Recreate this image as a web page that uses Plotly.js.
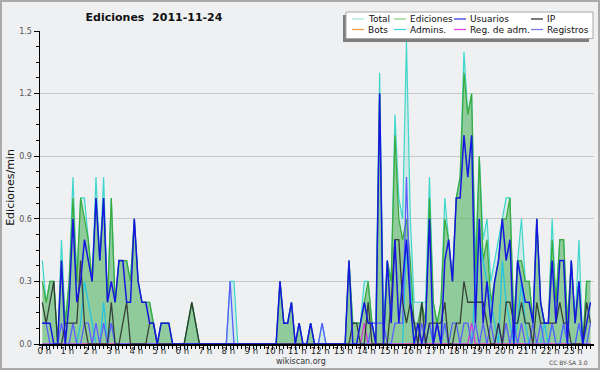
<!DOCTYPE html>
<html>
<head>
<meta charset="utf-8">
<script src="https://cdn.plot.ly/plotly-3.0.1.min.js"></script>
<style>
  html, body { margin:0; padding:0; background:#eff0f2; }
  #wrap { position:relative; width:600px; height:370px; }
  #chart { width:600px; height:370px; }
  #frame { position:absolute; left:0; top:0; width:600px; height:370px; box-sizing:border-box; border:2px solid #ababab; pointer-events:none; }
</style>
</head>
<body>
<div id="wrap"><div id="chart"></div><div id="frame"></div></div>
<script>
// ---- data: edits per minute in 10-minute bins, 2011-11-24 ----
const binMinutes = 10;
const hourLabels = ["0 h","1 h","2 h","3 h","4 h","5 h","6 h","7 h","8 h","9 h","10 h","11 h",
  "12 h","13 h","14 h","15 h","16 h","17 h","18 h","19 h","20 h","21 h","22 h","23 h"];
const yTickValues = [0, 0.3, 0.6, 0.9, 1.2, 1.5];
const yTickLabels = ["0.0", "0.3", "0.6", "0.9", "1.2", "1.5"];
const seriesNames = ["Total","Ediciones","Usuarios","IP","Bots","Admins.","Reg. de adm.","Registros"];

const total = [
  0.4,0.2,0.3,0.3,0.0,0.5,  0.1,0.3,0.8,0.3,0.7,0.7,  0.5,0.3,0.8,0.4,0.8,0.2,  0.7,0.2,0.4,0.4,0.4,0.3,
  0.6,0.3,0.2,0.2,0.2,0.1,  0.0,0.1,0.1,0.1,0.0,0.0,  0.0,0.0,0.1,0.2,0.1,0.0,  0,0,0,0,0,0,
  0,0.3,0.3,0,0,0,          0,0,0,0,0,0,              0,0,0.3,0.1,0.1,0.2,      0,0.1,0,0,0.1,0,
  0,0.1,0,0,0,0,            0,0,0.4,0.1,0.1,0.1,      0.3,0.3,0.1,0.1,1.3,0.1,  0.4,0.3,1.1,0.7,0.6,1.45,
  0.6,0.2,0.2,0.2,0.2,0.8,  0.2,0.1,0.2,0.7,0.5,0.3,  0.7,0.8,1.4,1.1,1.2,0.4,  0.9,0.5,0.6,0.3,0.4,0.5,
  0.6,0.7,0.7,0.1,0.4,0.6,  0.3,0.3,0.1,0.6,0.2,0.1,  0.1,0.6,0.2,0.5,0.5,0.1,  0.4,0.1,0.5,0.0,0.3,0.3
];
const ediciones = [
  0.3,0.2,0.3,0.3,0.0,0.4,  0.1,0.3,0.7,0.3,0.7,0.6,  0.5,0.3,0.7,0.4,0.7,0.2,  0.7,0.2,0.4,0.4,0.4,0.3,
  0.6,0.3,0.2,0.2,0.2,0.1,  0.0,0.1,0.1,0.1,0.0,0.0,  0.0,0.0,0.1,0.2,0.1,0.0,  0,0,0,0,0,0,
  0,0,0,0,0,0,              0,0,0,0,0,0,              0,0,0.3,0.1,0.1,0.2,      0,0.1,0,0,0.1,0,
  0,0,0,0,0,0,              0,0,0.4,0.1,0.1,0.1,      0.2,0.3,0.1,0.0,1.2,0.0,  0.4,0.3,1.0,0.6,0.5,0.6,
  0.4,0.1,0.1,0.2,0.1,0.7,  0.2,0.1,0.2,0.6,0.5,0.3,  0.7,0.8,1.3,1.1,1.2,0.3,  0.9,0.4,0.5,0.2,0.3,0.4,
  0.6,0.6,0.7,0.1,0.4,0.4,  0.3,0.3,0.1,0.6,0.2,0.1,  0.1,0.5,0.2,0.5,0.5,0.1,  0.4,0.1,0.3,0.0,0.3,0.3
];
const usuarios = [
  0.1,0.1,0.1,0.0,0.0,0.4,  0.0,0.2,0.6,0.2,0.3,0.5,  0.4,0.3,0.7,0.4,0.7,0.2,  0.3,0.2,0.4,0.4,0.2,0.2,
  0.6,0.3,0.2,0.2,0.1,0.1,  0.0,0.1,0.1,0.1,0.0,0.0,  0,0,0,0,0,0,              0,0,0,0,0,0,
  0,0,0,0,0,0,              0,0,0,0,0,0,              0,0,0.3,0.1,0.1,0.2,      0,0.1,0,0,0.1,0,
  0,0,0,0,0,0,              0,0,0.4,0.0,0.0,0.1,      0.2,0.1,0.1,0.0,1.2,0.0,  0.4,0.1,0.5,0.1,0.3,0.5,
  0.2,0.0,0.1,0.0,0.1,0.6,  0.0,0.1,0.0,0.4,0.5,0.3,  0.7,0.7,1.0,0.8,1.0,0.1,  0.6,0.1,0.3,0.1,0.3,0.4,
  0.6,0.4,0.5,0.0,0.4,0.3,  0.2,0.2,0.1,0.6,0.2,0.1,  0.1,0.4,0.1,0.4,0.4,0.0,  0.4,0.1,0.3,0.0,0.1,0.2
];
const ip = [
  0.2,0.1,0.2,0.3,0.0,0.0,  0.1,0.1,0.1,0.1,0.4,0.1,  0,0,0,0,0,0,              0.2,0.0,0.0,0.1,0.2,0.0,
  0,0,0,0,0.1,0.1,          0,0,0,0,0,0,              0,0,0.1,0.2,0.1,0,        0,0,0,0,0,0,
  0,0,0,0,0,0,              0,0,0,0,0,0,              0,0,0,0,0,0,              0,0,0,0,0,0,
  0,0,0,0,0,0,              0,0,0,0.1,0.1,0.0,        0.0,0.2,0.0,0.0,0.0,0.0,  0.0,0.2,0.5,0.5,0.2,0.1,
  0.2,0.1,0.0,0.2,0.0,0.1,  0.1,0.1,0.1,0.2,0.0,0.0,  0.1,0.1,0.3,0.2,0.2,0.2,  0.2,0.2,0.1,0.0,0.0,0.1,
  0.0,0.2,0.2,0.1,0.1,0.2,  0.1,0.1,0.0,0.2,0.1,0.1,  0.1,0.1,0.1,0.2,0.1,0.1,  0.0,0.0,0.0,0.0,0.2,0.1
];
const bots = [
  0,0,0,0,0,0, 0,0,0,0,0,0, 0,0,0,0,0,0, 0,0,0,0,0,0,
  0,0,0,0,0,0, 0,0,0,0,0,0, 0,0,0,0,0,0, 0,0,0,0,0,0,
  0,0,0,0,0,0, 0,0,0,0,0,0, 0,0,0,0,0,0, 0,0,0,0,0,0,
  0,0,0,0,0,0, 0,0,0,0,0,0, 0,0,0,0,0,0, 0,0,0,0,0,0,
  0,0,0,0,0,0, 0,0,0,0,0,0, 0,0,0,0,0,0, 0,0,0,0,0,0,
  0,0,0,0,0,0, 0,0,0,0,0,0, 0,0,0,0,0,0, 0,0,0,0,0,0
];
const admins = [
  0,0,0,0,0,0,              0,0,0,0,0.1,0.3,          0.2,0.1,0,0,0.2,0,        0.1,0,0,0,0,0,
  0,0,0,0,0,0,              0,0,0,0,0,0,              0,0,0,0,0,0,              0,0,0,0,0,0,
  0,0,0,0,0,0,              0,0,0,0,0,0,              0,0,0,0,0,0,              0,0,0,0,0,0,
  0,0,0,0,0,0,              0,0,0,0,0,0,              0,0,0,0,0,0,              0,0,0,0,0,0.5,
  0.3,0,0,0,0,0.1,          0,0,0,0.1,0,0,            0,0,0,0,0,0.3,            0.5,0.4,0.3,0.2,0.1,0,
  0.4,0.2,0.1,0,0.1,0.3,    0.1,0,0,0,0,0.1,          0,0.1,0,0,0.1,0,          0,0,0.1,0,0,0
];
const regAdm = [
  0,0,0,0,0,0, 0,0,0,0,0,0, 0,0,0,0,0,0, 0,0,0,0,0,0,
  0,0,0,0,0,0, 0,0,0,0,0,0, 0,0,0,0,0,0, 0,0,0,0,0,0,
  0,0,0,0,0,0, 0,0,0,0,0,0, 0,0,0,0,0,0, 0,0,0,0,0,0,
  0,0,0,0,0,0, 0,0,0,0,0,0, 0.1,0,0,0,0,0, 0,0,0,0,0,0,
  0,0,0,0,0,0, 0,0,0,0,0,0, 0,0,0,0,0.1,0, 0,0,0,0,0,0,
  0,0,0,0,0,0, 0,0,0,0,0,0, 0,0,0,0,0,0, 0,0,0,0,0,0
];
const registros = [
  0.1,0.1,0,0,0,0.1,        0,0,0.1,0,0,0.1,          0.1,0,0.1,0,0.1,0,        0.1,0,0,0,0,0,
  0,0,0,0,0,0,              0,0,0,0,0,0,              0,0,0,0,0,0,              0,0,0,0,0,0,
  0,0.3,0,0,0,0,            0,0,0,0,0,0,              0,0,0,0,0,0,              0,0,0,0,0,0,
  0,0.1,0,0,0,0,            0,0,0,0,0,0,              0,0,0.1,0.1,0.1,0.1,      0,0,0.1,0.1,0.1,0.8,
  0.2,0.1,0,0.1,0,0.1,      0,0.1,0,0.1,0,0.1,        0.1,0,0.1,0.1,0,0.1,      0,0.1,0,0.1,0,0.1,
  0,0.1,0,0.1,0,0.1,        0,0,0.1,0,0.1,0,          0,0.1,0,0,0.1,0,          0,0,0.1,0,0,0.1
];

// ---- build ----
const binHours = total.map((_, i) => i * binMinutes / 60);
const hourTicks = hourLabels.map((_, h) => h);

const lineColors = {
  "Total": "#3fd6cc", "Ediciones": "#3aaa3a", "Usuarios": "#1616e0", "IP": "#2a2a2a",
  "Bots": "#f59a30", "Admins.": "#25c4e0", "Reg. de adm.": "#d838d8", "Registros": "#5c5cff"
};
const legendColors = {
  "Total": "#a6e6df", "Ediciones": "#8fd28f", "Usuarios": "#3c3ce0", "IP": "#333333",
  "Bots": "#f5a040", "Admins.": "#40d4e4", "Reg. de adm.": "#dd44dd", "Registros": "#7a7aee"
};
const valuesByName = {
  "Total": total, "Ediciones": ediciones, "Usuarios": usuarios, "IP": ip,
  "Bots": bots, "Admins.": admins, "Reg. de adm.": regAdm, "Registros": registros
};

function tr(name, extra) {
  return Object.assign({
    type: "scatter", mode: "lines", name: name, x: binHours, y: valuesByName[name],
    line: { color: lineColors[name], width: 1.3 }, showlegend: false, hoverinfo: "x+y+name"
  }, extra || {});
}
const traces = [
  tr("Total", { fill: "tozeroy", fillcolor: "rgba(130,222,205,0.28)", line: { color: lineColors["Total"], width: 1.2 } }),
  tr("Ediciones", { fill: "tozeroy", fillcolor: "rgba(70,168,66,0.46)", line: { color: lineColors["Ediciones"], width: 1.2 } }),
  tr("Bots"),
  tr("Admins."),
  tr("Reg. de adm."),
  tr("Registros"),
  tr("IP", { line: { color: "rgba(40,40,40,0.85)", width: 1.3 } }),
  tr("Usuarios", { line: { color: lineColors["Usuarios"], width: 1.5 } })
];

// pixel helpers for the plot box (left 40, right 594, top 31, bottom 344)
const PL = 40, PR = 594, PT = 31, PB = 344;
const px = v => (v - PL) / (PR - PL);
const py = v => (PB - v) / (PB - PT);

// custom legend (4 columns of uneven width, as in the original)
const legCols = [352, 394, 454, 531];
const legText = [366, 408, 468, 545];
const legRows = [19, 29.5];
const shapes = [
  { type: "rect", xref: "paper", yref: "paper", x0: px(343), x1: px(589), y0: py(42), y1: py(15),
    fillcolor: "#7e7e7e", line: { width: 0 }, layer: "above" },
  { type: "rect", xref: "paper", yref: "paper", x0: px(346), x1: px(593), y0: py(38.5), y1: py(12),
    fillcolor: "#ffffff", line: { color: "#a8a8a8", width: 1 }, layer: "above" }
];
const annotations = [];
seriesNames.forEach((name, k) => {
  const col = k % 4, row = Math.floor(k / 4);
  shapes.push({ type: "line", xref: "paper", yref: "paper", x0: px(legCols[col]), x1: px(legCols[col] + 12),
    y0: py(legRows[row]), y1: py(legRows[row]), line: { color: legendColors[name], width: 1.3 }, layer: "above" });
  annotations.push({ xref: "paper", yref: "paper", x: px(legText[col]), y: py(legRows[row]), xanchor: "left",
    yanchor: "middle", text: name, showarrow: false, font: { family: "DejaVu Sans", size: 9, color: "#111" } });
});
annotations.push({ xref: "paper", yref: "paper", x: px(301), y: py(361.5), xanchor: "center", yanchor: "middle",
  text: "wikiscan.org", showarrow: false, font: { family: "DejaVu Sans", size: 8, color: "#333" } });
annotations.push({ xref: "paper", yref: "paper", x: px(590), y: py(362.5), xanchor: "right", yanchor: "middle",
  text: "CC BY-SA 3.0", showarrow: false, font: { family: "DejaVu Sans", size: 6, color: "#444" } });

const layout = {
  width: 600, height: 370,
  paper_bgcolor: "#eff0f2", plot_bgcolor: "#eff0f2",
  margin: { l: PL, r: 600 - PR, t: PT, b: 370 - PB, pad: 0 },
  showlegend: false,
  title: { text: "Ediciones\u00a0 2011-11-24", xref: "container", yref: "container", x: 154 / 600, xanchor: "center",
    y: 1 - 17 / 370, yanchor: "middle", font: { family: "DejaVu Sans", size: 11, weight: "bold", color: "#111" } },
  xaxis: {
    range: [-0.1, -0.1 + (PR - PL) / 23], tickmode: "array", tickvals: hourTicks, ticktext: hourLabels,
    ticks: "outside", ticklen: 4, tickwidth: 1, tickcolor: "#000", showgrid: false, zeroline: false,
    showline: true, linecolor: "#000", linewidth: 1.5, ticklabelshift: 2, ticklabelstandoff: -6,
    tickfont: { family: "DejaVu Sans", size: 8.5, color: "#222" },
    minor: { dtick: binMinutes / 60, tick0: 0, ticks: "outside", ticklen: 3, tickcolor: "#000", showgrid: false }
  },
  yaxis: {
    range: [0, 1.5], tickmode: "array", tickvals: yTickValues, ticktext: yTickLabels,
    ticks: "outside", ticklen: 5, tickwidth: 1, tickcolor: "#000", showgrid: true, gridcolor: "#c9c9c9", gridwidth: 1,
    zeroline: false, showline: true, linecolor: "#000", linewidth: 1.5,
    tickfont: { family: "DejaVu Sans", size: 8, color: "#555" },
    minor: { dtick: 0.075, tick0: 0, ticks: "outside", ticklen: 3, tickcolor: "#000", showgrid: false },
    title: { text: "Ediciones/min", standoff: 2, font: { family: "DejaVu Sans", size: 11, color: "#111" } }
  },
  shapes: shapes,
  annotations: annotations
};

Plotly.newPlot("chart", traces, layout, { displayModeBar: false, staticPlot: true });
</script>
</body>
</html>
